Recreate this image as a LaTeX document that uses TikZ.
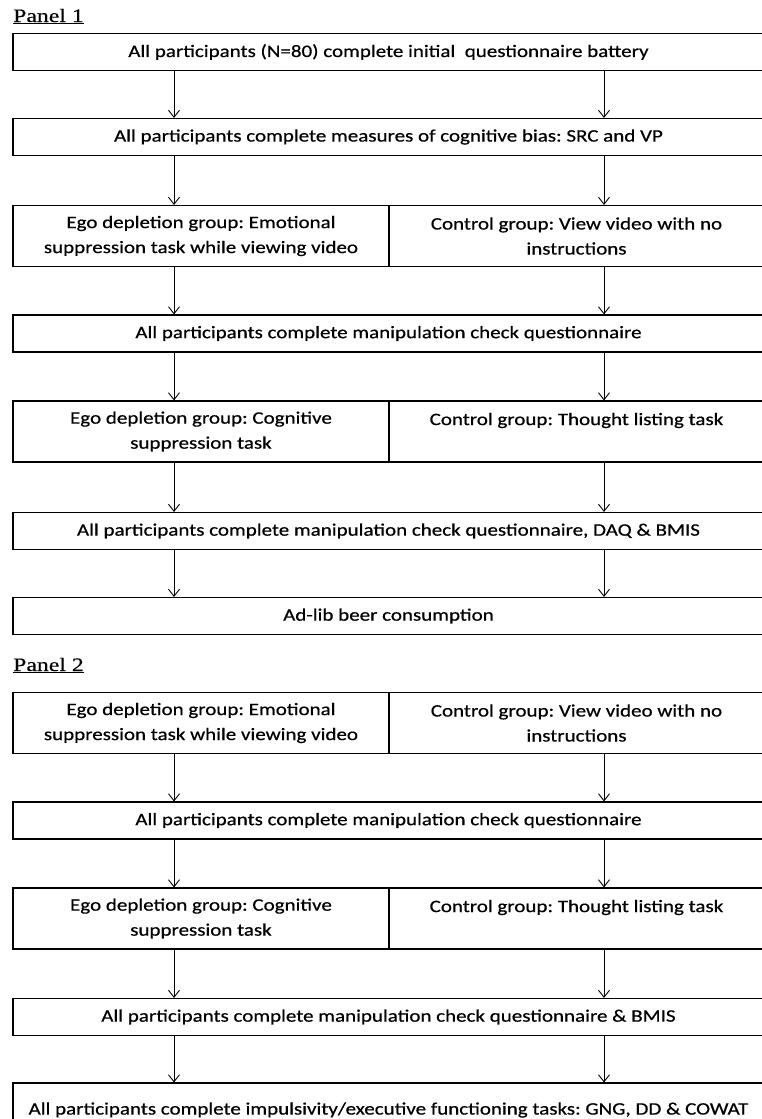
\documentclass[tikz,border=0pt]{standalone}
\usepackage{fontspec}
\setmainfont[FakeStretch=1.2,FakeBold=0.6]{Carlito}
\newfontfamily\panelfont[FakeStretch=1.25,FakeBold=0.4]{Liberation Serif}
\usetikzlibrary{arrows.meta}
\frenchspacing

\begin{document}
\begin{tikzpicture}[x=1pt,y=-1pt,
    box/.style={draw, line width=1.1pt, inner sep=0pt, align=center,
        font=\fontsize{17.5}{25}\selectfont},
    wide/.style={box, minimum width=751pt, minimum height=37pt},
    half/.style={box, minimum height=61pt},
    lefthalf/.style={half, minimum width=376pt},
    righthalf/.style={half, minimum width=375pt},
    flow/.style={-{Straight Barb[length=7pt,width=11pt]}, line width=0.9pt},
    panel/.style={anchor=base west, inner sep=0pt,
        font=\panelfont\fontsize{19}{20}\selectfont}]

    \useasboundingbox (0,0) rectangle (762,1119);

    % arrow columns
    \coordinate (colL) at (174,0);
    \coordinate (colR) at (604,0);

    % Panel 1
    \node[panel] (panelA) at (13,22) {\underline{Panel 1}};
    \node[wide] (a1) at (388.5,52) {All participants (N=80) complete initial \ questionnaire battery};
    \node[wide] (a2) at (388.5,137) {All participants complete measures of cognitive bias: SRC and VP};
    \node[lefthalf] (a3l) at (201,236) {Ego depletion group: Emotional\\suppression task while viewing video};
    \node[righthalf] (a3r) at (576.5,236) {Control group: View video with no\\instructions};
    \node[wide] (a4) at (388.5,333.5) {All participants complete manipulation check questionnaire};
    \node[lefthalf] (a5l) at (201,431.5) {Ego depletion group: Cognitive\\suppression task};
    \node[righthalf] (a5r) at (576.5,431.5) {Control group: Thought listing task\\\mbox{}};
    \node[wide] (a6) at (388.5,531) {All participants complete manipulation check questionnaire, DAQ \& BMIS};
    \node[wide] (a7) at (388.5,616) {Ad-lib beer consumption};

    % Panel 2
    \node[panel] (panelB) at (13,671) {\underline{Panel 2}};
    \node[lefthalf] (b1l) at (201,723) {Ego depletion group: Emotional\\suppression task while viewing video};
    \node[righthalf] (b1r) at (576.5,723) {Control group: View video with no\\instructions};
    \node[wide] (b2) at (388.5,820.5) {All participants complete manipulation check questionnaire};
    \node[lefthalf] (b3l) at (201,918.5) {Ego depletion group: Cognitive\\suppression task};
    \node[righthalf] (b3r) at (576.5,918.5) {Control group: Thought listing task\\\mbox{}};
    \node[wide] (b4) at (388.5,1017) {All participants complete manipulation check questionnaire \& BMIS};
    \node[wide, minimum height=54pt] (b5) at (388.5,1110) {All participants complete impulsivity/executive functioning tasks: GNG, DD \& COWAT};

    \foreach \s/\t in {a1/a2, a2/a3l, a3l/a4, a4/a5l, a5l/a6, a6/a7, b1l/b2, b2/b3l, b3l/b4, b4/b5}
        \draw[flow] (\s.south -| colL) -- (\t.north -| colL);
    \foreach \s/\t in {a1/a2, a2/a3r, a3r/a4, a4/a5r, a5r/a6, a6/a7, b1r/b2, b2/b3r, b3r/b4, b4/b5}
        \draw[flow] (\s.south -| colR) -- (\t.north -| colR);
\end{tikzpicture}
\end{document}
